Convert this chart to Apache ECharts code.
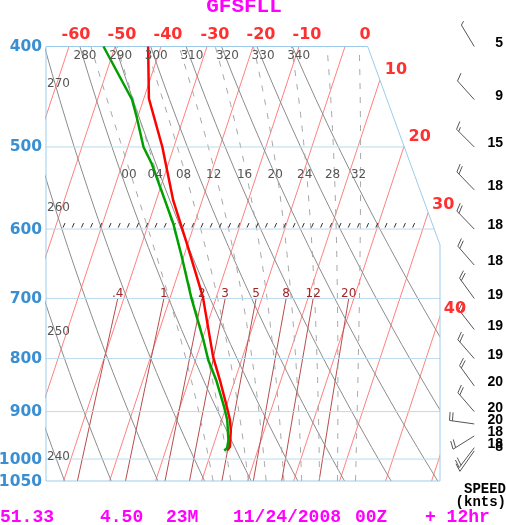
<!DOCTYPE html>
<html>
<head>
<meta charset="utf-8">
<script src="https://cdn.jsdelivr.net/npm/echarts@6/dist/echarts.min.js"></script>
<style>
  html, body { margin: 0; padding: 0; background: #fff; }
  #main { width: 506px; height: 525px; }
</style>
</head>
<body>
<div id="main"></div>
<script>
// skew-T: plotted x = T - SKEW * ln(p / 400)
const SKEW = 32.3;
const X_LEFT = -65, X_RIGHT = 20.652;
const STAFF_X = 28.1;

// sounding
const tempP = [400, 449, 500, 563, 619, 698, 797, 840, 888, 917, 938, 973, 981];
const tempC = [-42.8, -38.9, -32.5, -26.3, -20.3, -12.9, -6.4, -3.2, 0.0, 1.8, 2.7, 3.7, 3.4];
const dewP = [400, 450, 468, 500, 519, 563, 593, 638, 700, 768, 803, 840, 888, 917, 959, 977, 981];
const dewC = [-52.5, -42.5, -40.2, -36.6, -33.6, -28.1, -24.6, -20.4, -15.3, -9.7, -7.2, -4.0, -0.6, 1.2, 2.9, 3.2, 2.7];

// winds
const windP = [400, 450, 500, 550, 600, 650, 700, 750, 800, 850, 900, 925, 950, 975, 982];
const windDir = [329, 318, 315, 316, 316, 319, 324, 322, 319, 324, 319, 278, 238, 217, 215];
const windKt = [5, 9, 15, 18, 18, 18, 19, 19, 19, 20, 20, 20, 18, 18, 8];

// diagram lines
const pressureLines = [500, 600, 700, 800, 900, 1000];
const pressureLabels = [400, 500, 600, 700, 800, 900, 1000, 1050];
const isotherms = [-60, -50, -40, -30, -20, -10, 0, 10, 20, 30, 40, 50];
const isoTopLabels = [-60, -50, -40, -30, -20, -10, 0];
const isoTopNudge = [7, 7, 7, 8, 8, 8, 20];
const isoSideLabels = [10, 20, 30, 40];
const isoSideLabelP = [421, 489, 569, 716];
const thetas = [240, 250, 260, 270, 280, 290, 300, 310, 320, 330, 340];
const thetaTopLabels = [280, 290, 300, 310, 320, 330, 340];
const thetaSideLabels = [270, 260, 250, 240];
const thetaSideLabelP = [435, 573, 754, 995];
const thetaW = [0, 4, 8, 12, 16, 20, 24, 28, 32];
const thetaWLabelP = 532;
const mixRatios = [0.4, 1, 2, 3, 5, 8, 12, 20];
const hatch = { p: 600, from: -61.3, to: 15.4, step: 2 };
const frameCorners = [[X_LEFT, 400], [4.93, 400], [X_RIGHT, 621.6], [X_RIGHT, 1050], [X_LEFT, 1050], [X_LEFT, 400]];

function skewX(t, p) { return t - SKEW * Math.log(p / 400); }

function dryLine(th) {
  const out = [];
  for (let p = 400; p <= 1050; p += 25) out.push([skewX(th * Math.pow(p / 1000, 0.2857) - 273.15, p), p]);
  return out;
}

const Rd = 287.04, Cp = 1005.7, Lv = 2.501e6, EPS = 0.622;
function satVap(tc) { return 6.112 * Math.exp(17.67 * tc / (tc + 243.5)); }
function moistLapse(tk, p) {
  const es = satVap(tk - 273.15);
  const rs = EPS * es / (p - es);
  return (Rd * tk + Lv * rs) / (p * (Cp + Lv * Lv * rs * EPS / (Rd * tk * tk)));
}
function moistLine(thw) {
  const up = [], down = [];
  let t = thw + 273.15, p = 1000, dp = -5;
  while (p > 400) {
    const k1 = moistLapse(t, p), k2 = moistLapse(t + k1 * dp, p + dp);
    t += 0.5 * (k1 + k2) * dp; p += dp;
    up.push([skewX(t - 273.15, p), p]);
  }
  t = thw + 273.15; p = 1000; dp = 5;
  while (p < 1050) {
    const k1 = moistLapse(t, p), k2 = moistLapse(t + k1 * dp, p + dp);
    t += 0.5 * (k1 + k2) * dp; p += dp;
    down.push([skewX(t - 273.15, p), p]);
  }
  return down.reverse().concat([[skewX(thw, 1000), 1000]], up);
}

function mixLine(w) {
  const out = [];
  for (let p = 1050; p >= 700; p -= 50) {
    const lg = Math.log(w * p / (622 + w) / 6.112);
    out.push([skewX(243.5 * lg / (17.67 - lg), p), p]);
  }
  return out;
}

function xAt(line, p) {
  for (let i = 1; i < line.length; i++) {
    const a = line[i - 1], b = line[i];
    if ((a[1] - p) * (b[1] - p) <= 0) return a[0] + (b[0] - a[0]) * (p - a[1]) / (b[1] - a[1]);
  }
  return line[0][0];
}

function lineSeries(data, style, z, clip) {
  return {
    type: 'line', data: data, symbol: 'none', silent: true, z: z,
    clip: clip !== false, lineStyle: style, emphasis: { disabled: true }
  };
}

function labelSeries(items, font, color, align, dx, dy) {
  return {
    type: 'custom', silent: true, clip: false, z: 6,
    data: items.map(d => [d[0], d[1]]),
    renderItem: (params, api) => {
      const it = items[params.dataIndex];
      const pt = api.coord([api.value(0), api.value(1)]);
      return {
        type: 'text', x: pt[0] + dx + (it[3] || 0), y: pt[1] + dy,
        style: {
          text: String(it[2]), fill: color, font: font,
          align: align, verticalAlign: 'middle', textAlign: align, textVerticalAlign: 'middle'
        }
      };
    }
  };
}

const series = [];

isotherms.forEach(t => series.push(lineSeries(
  [[skewX(t, 400), 400], [skewX(t, 1050), 1050]], { color: '#ff8080', width: 1 }, 1)));

mixRatios.forEach(w => series.push(lineSeries(mixLine(w), { color: '#b84c4c', width: 1 }, 1)));

thetas.forEach(th => series.push(lineSeries(dryLine(th), { color: '#8c8c8c', width: 1 }, 1)));

const moistLines = thetaW.map(moistLine);
moistLines.forEach(ln => series.push(lineSeries(ln, { color: '#a6a6a6', width: 1, type: [6, 8] }, 1)));

pressureLines.forEach(p => series.push(lineSeries([[X_LEFT, p], [X_RIGHT, p]], { color: '#bcdaeb', width: 1 }, 1)));

// blank out the corner beyond the slanted edge, and a thin strip past the right edge
series.push({
  type: 'custom', silent: true, clip: false, z: 2, data: [[0, 500]],
  renderItem: (params, api) => {
    const a = api.coord([frameCorners[1][0], 400]), b = api.coord(frameCorners[2]), c = api.coord(frameCorners[3]);
    const pts = [[a[0], a[1] - 2], a, b, [b[0], c[1] + 2], [b[0] + 6, c[1] + 2], [b[0] + 6, a[1] - 2]];
    return { type: 'polygon', shape: { points: pts }, style: { fill: '#fff' } };
  }
});

series.push(lineSeries(frameCorners, { color: '#9ccbea', width: 1 }, 3, false));

// hatched level
series.push({
  type: 'custom', silent: true, clip: false, z: 3, data: [[hatch.from, hatch.p]],
  renderItem: (params, api) => {
    const children = [];
    for (let x = hatch.from; x <= hatch.to; x += hatch.step) {
      const pt = api.coord([x, hatch.p]);
      children.push({ type: 'line', shape: { x1: pt[0], y1: pt[1] - 1.5, x2: pt[0] + 2, y2: pt[1] - 6 },
        style: { stroke: '#333', lineWidth: 1 } });
    }
    return { type: 'group', children: children };
  }
});

// profiles
series.push(lineSeries(tempP.map((p, i) => [skewX(tempC[i], p), p]), { color: '#ff0000', width: 2.5 }, 5, false));
series.push(lineSeries(dewP.map((p, i) => [skewX(dewC[i], p), p]), { color: '#00a000', width: 2.5 }, 5, false));

// wind staff and barbs
series.push(lineSeries([[STAFF_X, 400], [STAFF_X, 1045]], { color: '#999', width: 1 }, 3, false));
series.push({
  type: 'custom', silent: true, clip: false, z: 5,
  data: windP.map((p, i) => [STAFF_X, p, windDir[i], windKt[i]]),
  encode: { x: 0, y: 1 },
  renderItem: (params, api) => {
    const base = api.coord([api.value(0), api.value(1)]);
    const rad = api.value(2) * Math.PI / 180, kt = api.value(3);
    const ux = Math.sin(rad), uy = -Math.cos(rad), L = 25;
    const tip = [base[0] + ux * L, base[1] + uy * L];
    let a = Math.atan2(uy, ux) * 180 / Math.PI; if (a < 0) a += 360;
    const b = (180 + a / 2) * Math.PI / 180;
    const children = [{ type: 'line', shape: { x1: base[0], y1: base[1], x2: tip[0], y2: tip[1] },
      style: { stroke: '#555', lineWidth: 1 } }];
    const r = Math.round(kt / 5) * 5;
    const flags = [];
    for (let i = 0; i < Math.floor(r / 10); i++) flags.push(8.5);
    if (r % 10) flags.push(4.5);
    flags.forEach((len, i) => {
      const sx = tip[0] - ux * 3 * i, sy = tip[1] - uy * 3 * i;
      children.push({ type: 'line', shape: { x1: sx, y1: sy, x2: sx + Math.cos(b) * len, y2: sy + Math.sin(b) * len },
        style: { stroke: '#555', lineWidth: 1 } });
    });
    children.push({ type: 'text', x: 503, y: base[1] - 3.5,
      style: { text: String(kt), fill: '#000', font: 'bold 14px "Liberation Sans"',
        align: 'right', verticalAlign: 'middle', textAlign: 'right', textVerticalAlign: 'middle' } });
    return { type: 'group', children: children };
  }
});

// labels
series.push(labelSeries(pressureLabels.map(p => [X_LEFT, p, p]), 'bold 15.5px "DejaVu Sans"', '#3a8fd3', 'right', -4, 0.5));
series.push(labelSeries(isoTopLabels.map((t, i) => [t, 400, t, isoTopNudge[i]]), 'bold 16px "DejaVu Sans"', '#ff3030', 'center', 0, -11.5));
series.push(labelSeries(isoSideLabels.map((t, i) => [skewX(t, isoSideLabelP[i]), isoSideLabelP[i], t]), 'bold 16px "DejaVu Sans"', '#ff3030', 'center', 12.5, 0));
series.push(labelSeries(thetaTopLabels.map(th => [skewX(th * Math.pow(0.408, 0.2857) - 273.15, 408), 408, th]), '12px "DejaVu Sans"', '#555', 'center', 2.5, 0));
series.push(labelSeries(thetaSideLabels.map((th, i) => [X_LEFT, thetaSideLabelP[i], th]), '12px "DejaVu Sans"', '#555', 'left', 1, 0));
series.push(labelSeries(mixRatios.map(w => [mixLine(w).slice(-1)[0][0], 700, String(w).replace('0.', '.')]), '12px "DejaVu Sans"', '#a02828', 'center', 0, -4.5));
series.push(labelSeries(thetaW.map((tw, i) => [xAt(moistLines[i], thetaWLabelP), thetaWLabelP, (tw < 10 ? '0' : '') + tw]), '12px "DejaVu Sans"', '#555', 'center', -2, 0));

const magentaFont = 'bold 18px "Liberation Mono"';
function txt(text, x, y, font, fill, align) {
  return { type: 'text', x: x, y: y, silent: true,
    style: { text: text, font: font, fill: fill, align: align, verticalAlign: 'middle', textAlign: align, textVerticalAlign: 'middle' } };
}

const chart = echarts.init(document.getElementById('main'));
chart.setOption({
  animation: false,
  grid: { left: 46, top: 46.5, width: 394, height: 434.5, containLabel: false },
  xAxis: { type: 'value', min: X_LEFT, max: X_RIGHT, show: false },
  yAxis: { type: 'log', logBase: 10, min: 400, max: 1050, inverse: true, show: false },
  graphic: [
    txt('GFSFLL', 244, 7, 'bold 21px "Liberation Mono"', '#ff00ff', 'center'),
    txt('51.33', 0, 517, magentaFont, '#ff00ff', 'left'),
    txt('4.50', 100, 517, magentaFont, '#ff00ff', 'left'),
    txt('23M', 166, 517, magentaFont, '#ff00ff', 'left'),
    txt('11/24/2008', 233, 517, magentaFont, '#ff00ff', 'left'),
    txt('00Z', 355, 517, magentaFont, '#ff00ff', 'left'),
    txt('+ 12hr', 425, 517, magentaFont, '#ff00ff', 'left'),
    txt('SPEED', 506, 489, 'bold 14px "Liberation Mono"', '#000', 'right'),
    txt('(knts)', 506, 502, 'bold 14px "Liberation Mono"', '#000', 'right')
  ],
  series: series
});
</script>
</body>
</html>
